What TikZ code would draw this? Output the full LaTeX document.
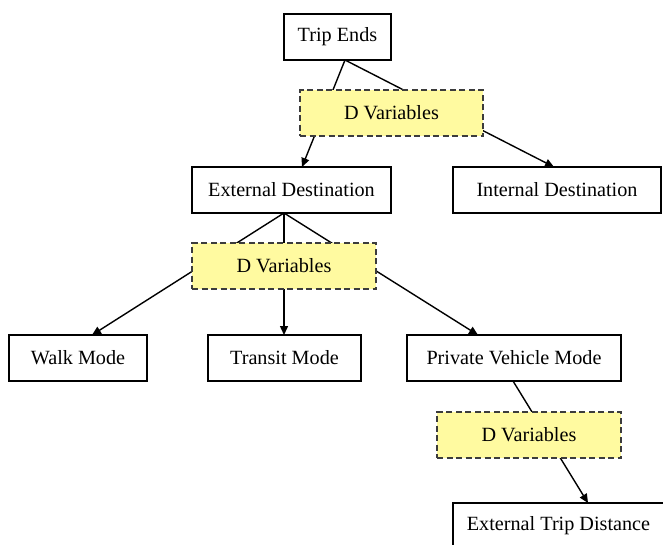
\documentclass[tikz,border=0pt]{standalone}
\usepackage{fontspec}
\setmainfont{Liberation Serif}
\usetikzlibrary{arrows.meta}
\definecolor{dvfill}{RGB}{255,250,160}
\definecolor{dvline}{RGB}{60,60,60}
\begin{document}
\begin{tikzpicture}[x=1pt,y=-1pt,
  box/.style={draw=black,line width=1.7pt,fill=white,minimum height=46pt,inner sep=0pt,font=\fontsize{20.2}{24}\selectfont},
  dvbox/.style={draw=dvline,line width=1.7pt,dash pattern=on 6pt off 3.5pt,fill=dvfill,minimum width=184pt,minimum height=46pt,inner sep=0pt,font=\fontsize{20.2}{24}\selectfont},
  conn/.style={line width=1.4pt},
  arr/.style={conn,-{Triangle[length=9pt,width=8pt]}}]
\useasboundingbox (0,0) rectangle (663,544);
% nodes
\node[box,minimum width=107pt] (te) at (337.5,37) {Trip Ends};
\node[box,minimum width=199pt] (ed) at (291.5,190) {External Destination};
\node[box,minimum width=208pt] (id) at (557,190) {Internal Destination};
\node[box,minimum width=138pt] (wm) at (78,358) {Walk Mode};
\node[box,minimum width=153pt] (tm) at (284.5,358) {Transit Mode};
\node[box,minimum width=214pt] (pv) at (514,358) {Private Vehicle Mode};
\node[box,minimum width=211pt] (etd) at (558.5,526) {External Trip Distance};
% connector anchor points
\coordinate (teb) at (345,60);
\coordinate (edt) at (302,167);
\coordinate (idt) at (554,167);
\coordinate (edb) at (284,213);
\coordinate (wmt) at (92,335);
\coordinate (tmt) at (284,335);
\coordinate (pvt) at (478,335);
\coordinate (pvb) at (513,381);
\coordinate (etdt) at (588,503);
% connectors
\draw[arr] (teb) -- (edt);
\draw[arr] (teb) -- (idt);
\draw[arr] (edb) -- (wmt);
\draw[arr] (edb) -- (tmt);
\draw[arr] (edb) -- (pvt);
\draw[arr] (pvb) -- (etdt);
% D variables boxes on top
\node[dvbox,minimum width=183pt] (dv1) at (391.5,113) {D Variables};
\node[dvbox] (dv2) at (284,266) {D Variables};
\node[dvbox] (dv3) at (529,435) {D Variables};
\end{tikzpicture}
\end{document}
